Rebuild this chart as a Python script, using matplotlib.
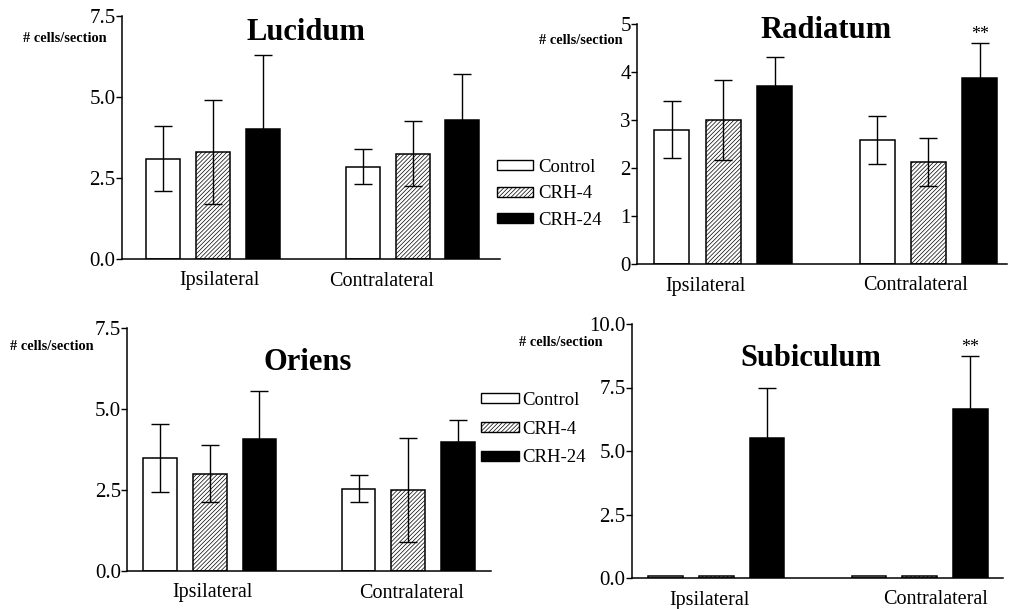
import numpy as np
import matplotlib.pyplot as plt
from matplotlib.patches import Patch

plt.rcParams['font.family'] = ['Liberation Serif', 'DejaVu Serif']
plt.rcParams['hatch.linewidth'] = 0.5

groups = ["Ipsilateral", "Contralateral"]
conditions = ["Control", "CRH-4", "CRH-24"]

# mean +- sem, rows = groups, cols = conditions
lucidum_mean = [[3.1, 3.3, 4.0], [2.85, 3.25, 4.3]]
lucidum_err = [[1.0, 1.6, 2.3], [0.55, 1.0, 1.4]]

radiatum_mean = [[2.8, 3.0, 3.7], [2.58, 2.12, 3.87]]
radiatum_err = [[0.6, 0.84, 0.62], [0.5, 0.5, 0.74]]

oriens_mean = [[3.5, 3.0, 4.07], [2.54, 2.51, 3.97]]
oriens_err = [[1.05, 0.88, 1.5], [0.42, 1.6, 0.68]]

subiculum_mean = [[0.08, 0.08, 5.5], [0.06, 0.06, 6.67]]
subiculum_err = [[0, 0, 1.97], [0, 0, 2.08]]

facecolors = ["white", "white", "black"]
hatches = [None, "////////", None]

W, H = 1009, 609

def px(x, y):
    return x / W, 1 - y / H

fig = plt.figure(figsize=(W / 100, H / 100), dpi=100)


def panel(rect, title, means, errs, yticks, fmt, xlim, label_x, title_xy, ylab_xy, stars=()):
    l, t, r, b = rect
    ax = fig.add_axes([l / W, 1 - b / H, (r - l) / W, (b - t) / H])
    means = np.array(means)
    errs = np.array(errs)
    for g in range(len(groups)):
        for c in range(len(conditions)):
            x = g * 4 + c
            ax.bar(x, means[g, c], width=0.68, color=facecolors[c], edgecolor="black",
                   hatch=hatches[c], linewidth=1.1, zorder=2)
            if errs[g, c] > 0:
                ax.errorbar(x, means[g, c], yerr=errs[g, c], fmt="none", ecolor="black",
                            elinewidth=1.0, capsize=6.5, capthick=1.0, zorder=3)
    for g, c in stars:
        ax.annotate("**", xy=(g * 4 + c, means[g, c] + errs[g, c]), xytext=(0, 0),
                    textcoords="offset points", ha="center", va="bottom", fontsize=13)
    ax.set_xlim(xlim)
    ax.set_ylim(yticks[0], yticks[-1])
    ax.set_yticks(yticks)
    ax.set_yticklabels([fmt % v for v in yticks])
    ax.set_xticks(label_x)
    ax.set_xticklabels(groups)
    ax.tick_params(axis="x", length=0, pad=9, labelsize=14.5)
    ax.tick_params(axis="y", length=4, width=1.0, pad=0.5, labelsize=15)
    for s in ["top", "right"]:
        ax.spines[s].set_visible(False)
    for s in ["left", "bottom"]:
        ax.spines[s].set_linewidth(1.1)
    fig.text(*px(*title_xy), title, fontsize=22, fontweight="bold", ha="center", va="center")
    fig.text(*px(*ylab_xy), "# cells/section", fontsize=10.4, fontweight="bold", ha="left", va="center")
    return ax


panel((122, 16, 500, 259), "Lucidum", lucidum_mean, lucidum_err,
      [0, 2.5, 5.0, 7.5], "%.1f", (-0.81, 6.75), [1.14, 4.39], (306, 33), (23, 39))
panel((637, 24, 1007, 264), "Radiatum", radiatum_mean, radiatum_err,
      [0, 1, 2, 3, 4, 5], "%d", (-0.68, 6.53), [0.65, 4.74], (826, 30), (539, 41), stars=[(1, 2)])
panel((127, 328, 491, 571), "Oriens", oriens_mean, oriens_err,
      [0, 2.5, 5.0, 7.5], "%.1f", (-0.67, 6.67), [1.05, 5.06], (308, 362), (10, 347))
panel((632, 324, 1003, 578), "Subiculum", subiculum_mean, subiculum_err,
      [0, 2.5, 5.0, 7.5, 10.0], "%.1f", (-0.66, 6.64), [0.87, 5.31], (811, 359), (519, 343), stars=[(1, 2)])

handles = [Patch(facecolor=facecolors[c], edgecolor="black", hatch=hatches[c], linewidth=1.0)
           for c in range(len(conditions))]
fig.legend(handles, conditions, loc="upper left", bbox_to_anchor=px(497, 159), frameon=False,
           fontsize=13.5, handlelength=1.9, handleheight=0.45, handletextpad=0.3,
           labelspacing=0.5, borderpad=0, borderaxespad=0)
fig.legend(handles, conditions, loc="upper left", bbox_to_anchor=px(481, 392), frameon=False,
           fontsize=13.5, handlelength=2.0, handleheight=0.45, handletextpad=0.2,
           labelspacing=0.62, borderpad=0, borderaxespad=0)

fig.savefig("out.png", dpi=100)
